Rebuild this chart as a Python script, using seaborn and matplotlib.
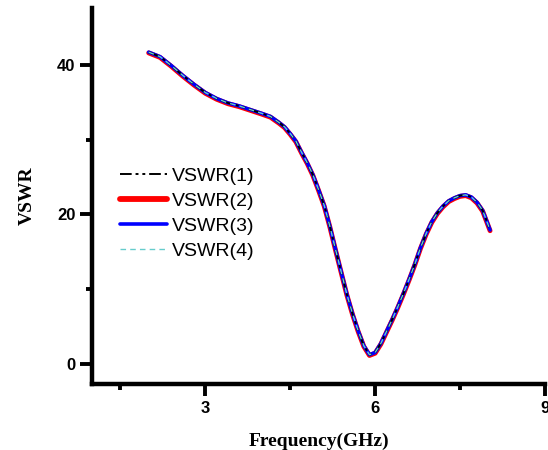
import numpy as np
import pandas as pd
import seaborn as sns
import matplotlib
matplotlib.use("Agg")
import matplotlib.pyplot as plt
from matplotlib.ticker import MultipleLocator

# frequency points (GHz) and VSWR values
freq = [2.0, 2.2, 2.4, 2.6, 2.8, 3.0, 3.2, 3.4, 3.6, 3.8, 4.0, 4.15, 4.3, 4.4,
        4.5, 4.6, 4.7, 4.8, 4.9, 5.0, 5.1, 5.2, 5.3, 5.4, 5.5, 5.6, 5.7, 5.8,
        5.9, 6.0, 6.1, 6.2, 6.3, 6.4, 6.5, 6.6, 6.7, 6.8, 6.9, 7.0, 7.1, 7.2,
        7.3, 7.4, 7.5, 7.6, 7.7, 7.8, 7.9, 8.03]
vswr1 = [41.7, 41.1, 39.9, 38.6, 37.4, 36.3, 35.5, 34.9, 34.5, 34.0, 33.5, 33.1,
         32.3, 31.7, 30.8, 29.8, 28.3, 26.9, 25.3, 23.3, 21.2, 18.4, 15.3, 12.3,
         9.3, 6.7, 4.4, 2.4, 1.2, 1.5, 2.7, 4.3, 5.9, 7.6, 9.4, 11.3, 13.3, 15.5,
         17.4, 19.0, 20.2, 21.1, 21.8, 22.2, 22.5, 22.6, 22.3, 21.6, 20.5, 17.9]
vswr2 = [41.6, 41.0, 39.8, 38.5, 37.3, 36.2, 35.4, 34.8, 34.4, 33.9, 33.4, 33.0,
         32.2, 31.6, 30.7, 29.7, 28.2, 26.8, 25.2, 23.2, 21.1, 18.3, 15.2, 12.2,
         9.2, 6.6, 4.3, 2.3, 1.1, 1.4, 2.6, 4.2, 5.8, 7.5, 9.3, 11.2, 13.2, 15.4,
         17.3, 18.9, 20.1, 21.0, 21.7, 22.1, 22.4, 22.5, 22.2, 21.5, 20.4, 17.8]
vswr3 = vswr1
vswr4 = vswr1

labels = ["VSWR(1)", "VSWR(2)", "VSWR(3)", "VSWR(4)"]

df = pd.DataFrame({"freq": freq, "VSWR(1)": vswr1, "VSWR(2)": vswr2,
                   "VSWR(3)": vswr3, "VSWR(4)": vswr4})

sns.set_style("ticks", {"axes.edgecolor": "black", "xtick.color": "black",
                        "ytick.color": "black", "text.color": "black",
                        "axes.labelcolor": "black"})
plt.rcParams["font.family"] = ["Liberation Sans", "DejaVu Sans"]

fig = plt.figure(figsize=(5.48, 4.5), dpi=100)
ax = fig.add_axes([0.168, 0.147, 0.8265, 0.835])

# draw order: red thick at back, blue, then dashed lines on top
sns.lineplot(data=df, x="freq", y="VSWR(2)", ax=ax, color="#ff0000", lw=3.5, zorder=2)
sns.lineplot(data=df, x="freq", y="VSWR(3)", ax=ax, color="#0000ff", lw=2.6, zorder=3)
sns.lineplot(data=df, x="freq", y="VSWR(1)", ax=ax, color="black", lw=1.4,
             zorder=4, linestyle=(0, (6, 2, 1.5, 2, 1.5, 2)))
sns.lineplot(data=df, x="freq", y="VSWR(4)", ax=ax, color="#66cccc", lw=1.0,
             zorder=5, linestyle=(0, (4, 3)))

lines = ax.get_lines()
handles = [lines[2], lines[0], lines[1], lines[3]]
leg = ax.legend(handles, labels, loc="upper left", bbox_to_anchor=(0.0445, 0.596),
                frameon=False, fontsize=14, handlelength=2.4, handletextpad=0.26,
                labelspacing=0.38, borderaxespad=0)
leg.get_lines()[1].set_linewidth(4.2)

ax.set_xlim(1, 9)
ax.set_ylim(-2.7, 47.6)
ax.xaxis.set_major_locator(MultipleLocator(3))
ax.xaxis.set_minor_locator(MultipleLocator(1.5))
ax.yaxis.set_major_locator(MultipleLocator(20))
ax.yaxis.set_minor_locator(MultipleLocator(10))

sns.despine(ax=ax)
for s in ["left", "bottom"]:
    ax.spines[s].set_linewidth(3.2)
ax.tick_params(which="major", length=8.5, width=2.8, labelsize=12, pad=3.6)
ax.tick_params(which="minor", length=4.5, width=2.8)
for t in ax.get_xticklabels() + ax.get_yticklabels():
    t.set_fontweight("bold")

ax.set_xlabel("Frequency(GHz)", fontsize=14, fontweight="bold",
              family="Liberation Serif", labelpad=12)
ax.set_ylabel("VSWR", fontsize=14, fontweight="bold",
              family="Liberation Serif", labelpad=15)

fig.savefig("out.png", dpi=100)
